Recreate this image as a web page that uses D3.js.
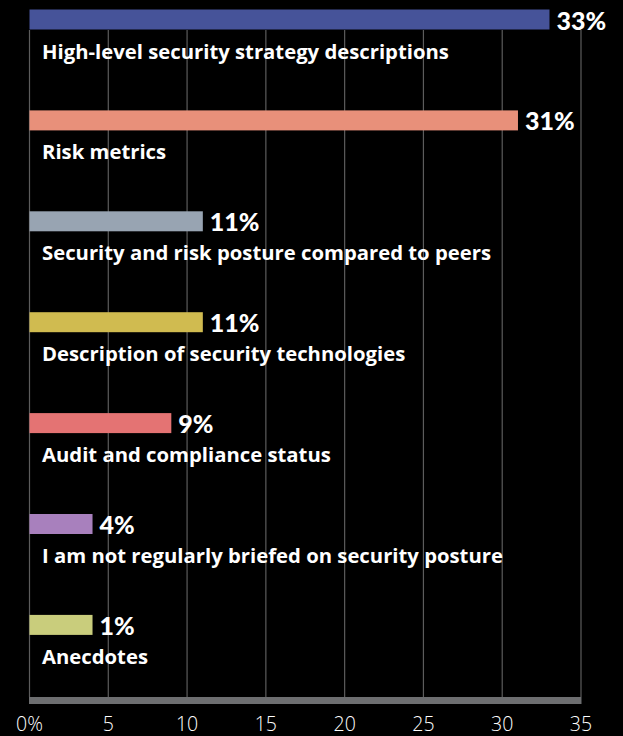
<!DOCTYPE html>
<html>
<head>
<meta charset="utf-8">
<script src="https://cdn.jsdelivr.net/npm/d3@7"></script>
<style>
  html, body { margin: 0; padding: 0; background: #000; }
  svg { display: block; }
</style>
</head>
<body>
<div id="chart"></div>
<script>
// categories, top to bottom
const categories = [
  "High-level security strategy descriptions",
  "Risk metrics",
  "Security and risk posture compared to peers",
  "Description of security technologies",
  "Audit and compliance status",
  "I am not regularly briefed on security posture",
  "Anecdotes"
]
// bar lengths as drawn in the picture
const values = [33, 31, 11, 11, 9, 4, 4]
// printed value labels
const valueLabels = ["33%", "31%", "11%", "11%", "9%", "4%", "1%"]
const colors = ["#465399", "#e8907a", "#98a4b2", "#d0bb50", "#e47373", "#a880bd", "#c9cd7c"]
const ticks = [0, 5, 10, 15, 20, 25, 30, 35]

const width = 623, height = 736

const svg = d3.select("#chart").append("svg")
  .attr("width", width)
  .attr("height", height)

svg.append("rect")
  .attr("width", width)
  .attr("height", height)
  .attr("fill", "#000")

const x = d3.scaleLinear().domain([0, 35]).range([29.5, 581])

// row positions, one band per category
const y = d3.scaleBand()
  .domain(categories)
  .range([9.5, 9.5 + 100.9 * categories.length])
  .paddingInner(0)
  .paddingOuter(0)

const barH = 20
const axisY = 697

// vertical grid lines
svg.append("g")
  .selectAll("line")
  .data(ticks)
  .join("line")
    .attr("x1", d => x(d))
    .attr("x2", d => x(d))
    .attr("y1", 30)
    .attr("y2", axisY)
    .attr("stroke", "#5c5c5c")
    .attr("stroke-width", 1.2)

// gray axis band
svg.append("rect")
  .attr("x", x(0) - 0.5)
  .attr("y", axisY)
  .attr("width", x(35) - x(0) + 1)
  .attr("height", 7)
  .attr("fill", "#6d6e70")

// tick labels
svg.append("g")
  .selectAll("text")
  .data(ticks)
  .join("text")
    .attr("x", d => x(d))
    .attr("y", 730.5)
    .attr("text-anchor", "middle")
    .attr("fill", "#fff")
    .style("font-family", "'Open Sans', sans-serif")
    .style("font-weight", 300)
    .style("font-size", "19.5px")
    .text(d => d === 0 ? "0%" : d)

const rows = svg.append("g")
  .selectAll("g")
  .data(categories)
  .join("g")
    .attr("transform", d => `translate(0,${y(d)})`)

rows.append("rect")
  .attr("x", x(0))
  .attr("y", 0)
  .attr("width", (d, i) => x(values[i]) - x(0))
  .attr("height", barH)
  .attr("fill", (d, i) => colors[i])

rows.append("text")
  .attr("x", (d, i) => x(values[i]) + 7)
  .attr("y", barH)
  .attr("fill", "#fff")
  .style("font-family", "Lato, sans-serif")
  .style("font-weight", 900)
  .style("font-size", "25px")
  .text((d, i) => valueLabels[i])

rows.append("text")
  .attr("x", 42)
  .attr("y", 49)
  .attr("fill", "#fff")
  .style("font-family", "'Open Sans', sans-serif")
  .style("font-weight", 700)
  .style("font-size", "20.3px")
  .text(d => d)
</script>
</body>
</html>
